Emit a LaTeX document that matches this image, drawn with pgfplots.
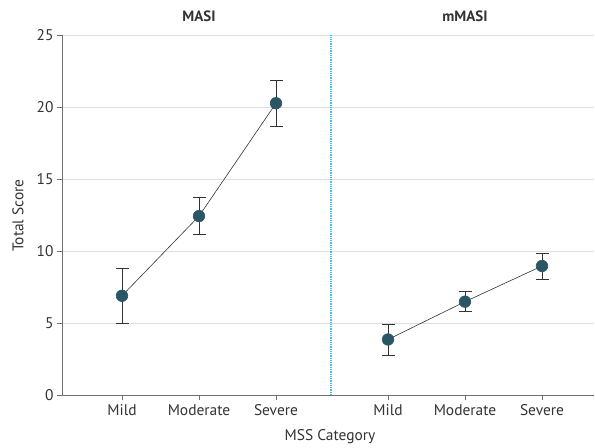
\documentclass[border=0pt]{standalone}
\usepackage{pgfplots}
\pgfplotsset{compat=1.18}
\usepackage{fontspec}
\setmainfont{PT Sans}
\definecolor{ptc}{HTML}{2B5665}
\definecolor{divider}{HTML}{3FBDEB}
\definecolor{axgray}{HTML}{707070}
\definecolor{txt}{HTML}{333333}
\pgfplotstableread{
x y ep em
122 6.90 1.93 1.95
199 12.44 1.28 1.28
276 20.29 1.61 1.64
}\masi
\pgfplotstableread{
x y ep em
388 3.86 1.02 1.11
465 6.49 0.69 0.70
542 8.97 0.86 0.90
}\mmasi
\begin{document}
\begin{tikzpicture}
\begin{axis}[
 scale only axis, width=532bp, height=359.5bp,
 xmin=62, xmax=594, ymin=0, ymax=25,
 axis x line=bottom, axis y line=left,
 axis line style={-, axgray, line width=0.9pt},
 ytick={0,5,...,25}, xtick={122,199,276,388,465,542},
 xticklabels={Mild,Moderate,Severe,Mild,Moderate,Severe},
 tick style={axgray, line width=0.8pt}, tick align=outside, major tick length=5bp,
 ymajorgrids, grid style={black!13, line width=0.9pt},
 font=\fontsize{15.5}{17}\selectfont, tick label style={txt},
 xticklabel style={yshift=-1bp},
 /pgf/number format/assume math mode=true,
 clip=false,
]
\draw[divider, line width=1.1pt, dash pattern=on 1pt off 0.8pt] (axis cs:331,0) -- (axis cs:331,25);
\addplot[black!80, line width=0.6pt, mark=*, mark size=5.8bp,
  mark options={fill=ptc, draw=ptc},
  error bars/.cd, y dir=both, y explicit,
  error bar style={black!80, line width=0.8pt},
  error mark options={rotate=90, mark size=6.5bp, black!80, line width=0.8pt}]
  table[x=x, y=y, y error plus=ep, y error minus=em] {\masi};
\addplot[black!80, line width=0.6pt, mark=*, mark size=5.8bp,
  mark options={fill=ptc, draw=ptc},
  error bars/.cd, y dir=both, y explicit,
  error bar style={black!80, line width=0.8pt},
  error mark options={rotate=90, mark size=6.5bp, black!80, line width=0.8pt}]
  table[x=x, y=y, y error plus=ep, y error minus=em] {\mmasi};
\node[font=\fontsize{15}{17}\selectfont\bfseries, txt] at (axis cs:199,26.34) {MASI};
\node[font=\fontsize{15}{17}\selectfont\bfseries, txt] at (axis cs:465,26.34) {mMASI};
\node[rotate=90, txt] at (axis cs:18,12.48) {Total Score};
\node[txt] at (axis cs:330,-2.93) {MSS Category};
\end{axis}
\pgfresetboundingbox
\path[use as bounding box] (-62bp,-53bp) rectangle (533bp,395bp);
\end{tikzpicture}
\end{document}
